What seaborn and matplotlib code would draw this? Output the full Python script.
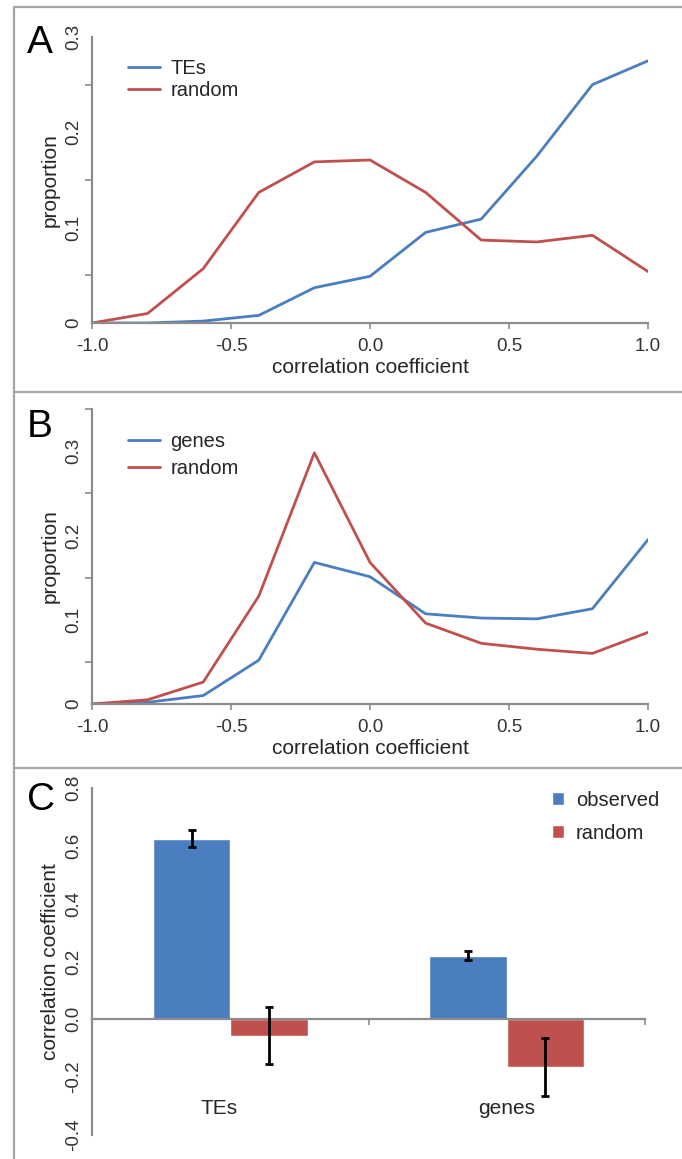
import numpy as np
import pandas as pd
import seaborn as sns
import matplotlib.pyplot as plt
from matplotlib.lines import Line2D

# data
coef = [-1.0, -0.8, -0.6, -0.4, -0.2, 0.0, 0.2, 0.4, 0.6, 0.8, 1.0]
tes_prop = [0, 0, 0.002, 0.008, 0.037, 0.049, 0.095, 0.109, 0.175, 0.250, 0.275]
tes_random = [0, 0.010, 0.057, 0.137, 0.169, 0.171, 0.137, 0.087, 0.085, 0.092, 0.054]
genes_prop = [0, 0.002, 0.010, 0.052, 0.168, 0.151, 0.107, 0.102, 0.101, 0.113, 0.195]
genes_random = [0, 0.005, 0.026, 0.128, 0.298, 0.168, 0.096, 0.072, 0.065, 0.060, 0.085]

groups = ['TEs', 'genes']
observed = [0.625, 0.220]
observed_err = [0.030, 0.015]
random_corr = [-0.057, -0.165]
random_err = [0.098, 0.100]

blue = '#4a7ebf'
red = '#c0504d'
axis_gray = '#8c8c8c'

sns.set_style('white')
plt.rcParams['font.family'] = ['Liberation Sans', 'DejaVu Sans']
plt.rcParams['text.color'] = '#262626'
plt.rcParams['axes.labelcolor'] = '#262626'

fig = plt.figure(figsize=(6.82, 11.59), dpi=100)
W, H = 682, 1159


def px_axes(x0, x1, ytop, ybot):
    return fig.add_axes([x0 / W, 1 - ybot / H, (x1 - x0) / W, (ybot - ytop) / H])


def style_axes(ax):
    sns.despine(ax=ax)
    for s in ['left', 'bottom']:
        ax.spines[s].set_color(axis_gray)
        ax.spines[s].set_linewidth(1.6)
    ax.tick_params(axis='both', which='both', direction='out', color=axis_gray,
                   width=1.2, labelsize=13.5, labelcolor='#333333')
    ax.tick_params(axis='y', which='major', length=5, pad=2)
    ax.tick_params(axis='y', which='minor', length=5, left=True)
    ax.tick_params(axis='x', length=4, bottom=True, pad=7)
    for lab in ax.get_yticklabels():
        lab.set_rotation(90)
        lab.set_va('center')


def line_panel(ax, a, b, name, ymax, spacing, ytop):
    sns.lineplot(x=coef, y=a, ax=ax, color=blue, lw=2, label=name)
    sns.lineplot(x=coef, y=b, ax=ax, color=red, lw=2, label='random')
    ax.set_xlim(-1.0, 1.0)
    ax.set_ylim(0, ymax)
    ax.set_xticks([-1.0, -0.5, 0.0, 0.5, 1.0])
    ax.set_xticklabels(['-1.0', '-0.5', '0.0', '0.5', '1.0'])
    ax.set_yticks([0, 0.1, 0.2, 0.3])
    ax.set_yticklabels(['0', '0.1', '0.2', '0.3'])
    ax.set_yticks(np.arange(0.05, ymax + 0.001, 0.1), minor=True)
    ax.set_xlabel('correlation coefficient', fontsize=15, labelpad=2)
    ax.set_ylabel('proportion', fontsize=15, labelpad=4)
    style_axes(ax)
    ax.legend(loc='upper left', bbox_to_anchor=(0.05, ytop), frameon=False,
              fontsize=14.5, handlelength=1.6, handletextpad=0.5,
              labelspacing=spacing, borderaxespad=0)


# Panel A
axA = px_axes(92, 648, 37, 323)
line_panel(axA, tes_prop, tes_random, 'TEs', 0.3, 0.15, 0.95)

# Panel B
axB = px_axes(92, 648, 409, 704)
line_panel(axB, genes_prop, genes_random, 'genes', 0.35, 0.4, 0.95)

# Panel C
axC = px_axes(92, 645, 788, 1135)
df = pd.DataFrame({
    'group': groups * 2,
    'type': ['observed'] * 2 + ['random'] * 2,
    'value': observed + random_corr,
})
sns.barplot(data=df, x='group', y='value', hue='type', ax=axC,
            palette=[blue, red], width=0.56, errorbar=None, saturation=1)
errs = [observed_err, random_err]
vals = [observed, random_corr]
for cont, v, e in zip(axC.containers, vals, errs):
    xs = [bar.get_x() + bar.get_width() / 2 for bar in cont]
    axC.errorbar(xs, v, yerr=e, fmt='none', ecolor='black', elinewidth=2,
                 capsize=3, capthick=2, zorder=5)
axC.set_xlim(-0.5, 1.5)
axC.set_ylim(-0.4, 0.8)
axC.set_yticks([-0.4, -0.2, 0.0, 0.2, 0.4, 0.6, 0.8])
axC.set_yticklabels(['-0.4', '-0.2', '0.0', '0.2', '0.4', '0.6', '0.8'])
axC.set_xticks([-0.5, 0.5, 1.5])
axC.set_xticklabels(['', '', ''])
axC.set_xlabel('')
axC.set_ylabel('correlation coefficient', fontsize=15, labelpad=4)
style_axes(axC)
axC.tick_params(axis='x', pad=3)
axC.spines['bottom'].set_position(('data', 0))
for i, g in enumerate(groups):
    axC.text(i - 0.04 if i == 0 else i, -0.31, g, ha='center', va='center',
             fontsize=15)
axC.legend(loc='upper right', bbox_to_anchor=(1.04, 1.015), frameon=False,
           fontsize=14.5, handlelength=0.6, handleheight=0.6, handletextpad=0.6,
           labelspacing=0.7, borderaxespad=0)

# panel letters
for letter, ytop in [('A', 25), ('B', 409), ('C', 782)]:
    fig.text(27 / W, 1 - ytop / H, letter, fontsize=28, ha='left', va='top',
             color='black')

# panel frames
frame = '#a6a6a6'
for y in [7, 392, 768]:
    fig.add_artist(Line2D([14 / W, 1], [1 - y / H, 1 - y / H], color=frame, lw=1.6))
fig.add_artist(Line2D([14 / W, 14 / W], [0, 1 - 7 / H], color=frame, lw=1.6))

fig.savefig('out.png', dpi=100)
